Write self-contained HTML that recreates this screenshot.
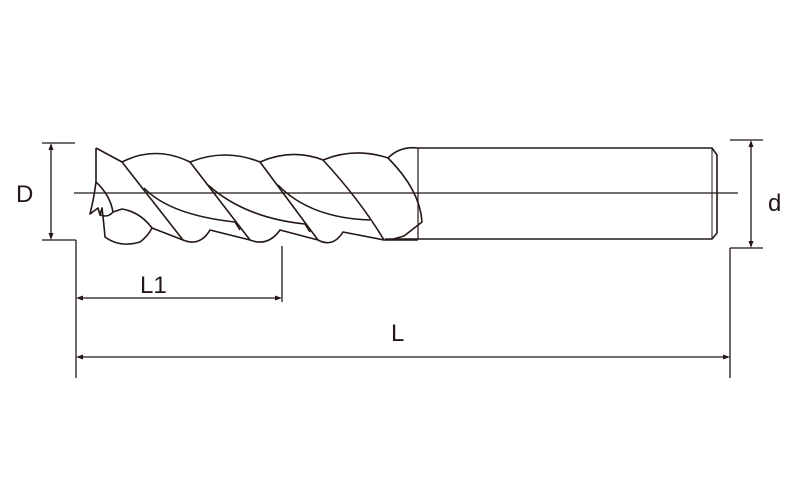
<!DOCTYPE html>
<html><head><meta charset="utf-8"><style>
html,body{margin:0;padding:0;background:#fff;width:800px;height:500px;overflow:hidden}
svg{display:block}
text{font-family:"Liberation Sans",sans-serif;fill:#231815}
</style></head><body>
<svg width="800" height="500" viewBox="0 0 800 500" xmlns="http://www.w3.org/2000/svg">
<g fill="none" stroke="#231815" stroke-width="1.6" stroke-linejoin="round">
<path d="M418 148 H712 L717 155 V233 L712 239 H385"/>
<line x1="418" y1="148" x2="418" y2="239" stroke-width="1.2"/>
<line x1="712" y1="148" x2="712" y2="239" stroke-width="1"/>
<path d="M96 148 L122 162 Q155 145 190 162 Q225 148 260 162 Q292 148 323 160 Q355 147 388 158 Q400 146 418 148"/>
<path d="M96 148 L96 182 Q94 198 90 214 L98 208 L100 215 L102 208 Q104 225 105 237 Q120 248 140 242 Q148 236 152 228 L183 240 Q200 247 210 230 L250 240 Q268 247 280 230 L318 240 Q333 248 343 232 L384 240 H418"/>
<path d="M96 182 Q110 195 113 212 Q108 218 100 215"/>
<path d="M113 212 L122 209 Q140 212 152 228"/>
<path d="M122 162 L183 240"/>
<path d="M190 162 L250 240"/>
<path d="M260 162 L318 240"/>
<path d="M323 160 Q360 200 384 240"/>
<path d="M388 158 Q420 190 422 222 L404 236 L390 240"/>
<path d="M144 188 Q170 215 235 222 L240 230"/>
<path d="M208 185 Q245 218 305 224 L310 232"/>
<path d="M278 185 Q310 218 370 220"/>
</g>
<g stroke="#231815" stroke-width="1.3" fill="none">
<line x1="74" y1="193" x2="738" y2="193" stroke-width="1.2"/>
<line x1="42" y1="143" x2="75" y2="143"/>
<line x1="42" y1="240" x2="76" y2="240"/>
<line x1="51" y1="147" x2="51" y2="236"/>
<line x1="76" y1="240" x2="76" y2="378"/>
<line x1="730" y1="140" x2="763" y2="140"/>
<line x1="730" y1="248" x2="763" y2="248"/>
<line x1="751" y1="144" x2="751" y2="244"/>
<line x1="730" y1="248" x2="730" y2="378"/>
<line x1="282" y1="246" x2="282" y2="302"/>
<line x1="80" y1="298" x2="278" y2="298"/>
<line x1="80" y1="357" x2="726" y2="357"/>
</g>
<g fill="#231815">
<path d="M51 143 L48.5 150 L53.5 150Z"/><path d="M51 240 L48.5 233 L53.5 233Z"/>
<path d="M751 140 L748.5 147 L753.5 147Z"/><path d="M751 248 L748.5 241 L753.5 241Z"/>
<path d="M76 298 L83 295.5 L83 300.5Z"/><path d="M282 298 L275 295.5 L275 300.5Z"/>
<path d="M76 357 L83 354.5 L83 359.5Z"/><path d="M730 357 L723 354.5 L723 359.5Z"/>
</g>
<text x="16" y="202" font-size="24">D</text>
<text x="768" y="211" font-size="24">d</text>
<text x="140" y="293" font-size="24">L1</text>
<text x="391" y="341" font-size="24">L</text>
</svg>
</body></html>
